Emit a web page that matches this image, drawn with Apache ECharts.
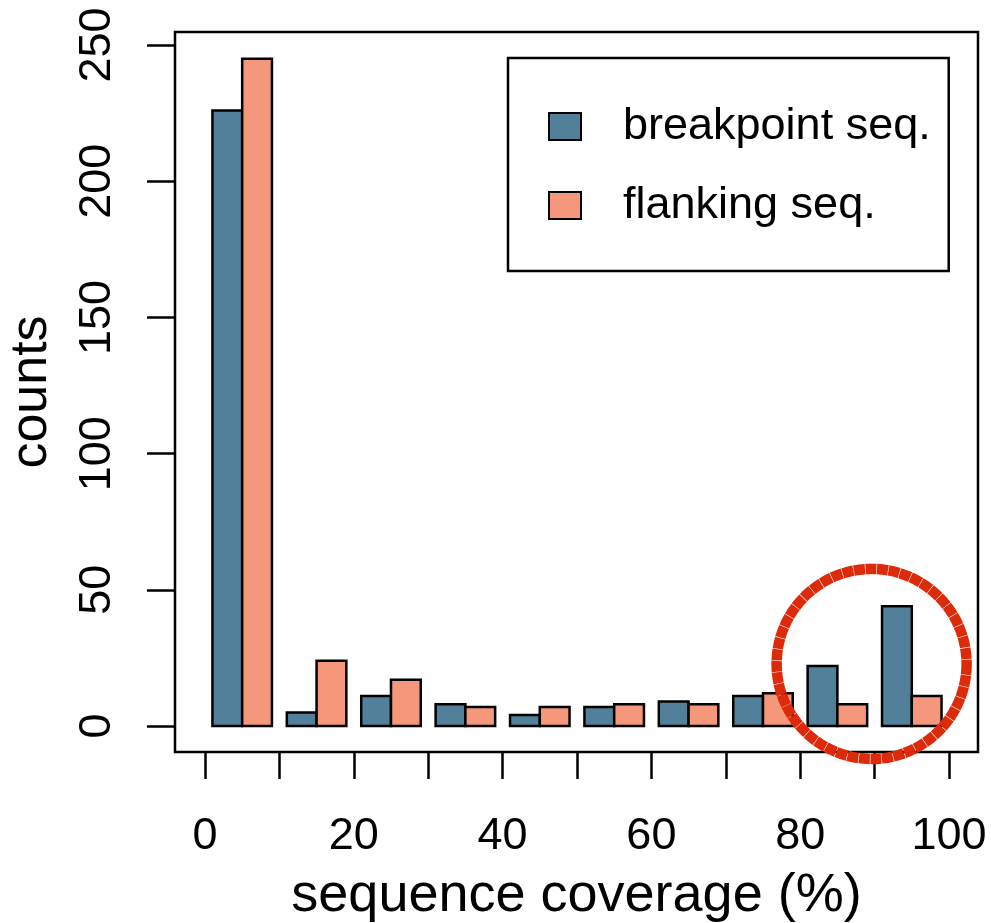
<!DOCTYPE html>
<html><head><meta charset="utf-8">
<script src="https://cdn.jsdelivr.net/npm/echarts@6/dist/echarts.min.js"></script>
<style>html,body{margin:0;padding:0;background:#fff}#c{width:991px;height:923px}</style>
</head><body><div id="c"></div>
<script>
var binStarts = [0, 10, 20, 30, 40, 50, 60, 70, 80, 90];
var breakpointCounts = [226, 5, 11, 8, 4, 7, 9, 11, 22, 44];
var flankingCounts = [245, 24, 17, 7, 7, 8, 8, 12, 8, 11];
var xTicks = [0, 10, 20, 30, 40, 50, 60, 70, 80, 90, 100];
var xLabels = [0, 20, 40, 60, 80, 100];
var yTicks = [0, 50, 100, 150, 200, 250];
var seriesNames = ['breakpoint seq.', 'flanking seq.'];
var highlight = { x: 89.6, y: 22.8 };

var FONT = 'Liberation Sans, Arial, Helvetica, sans-serif';
var BLUE = '#52809a', ORANGE = '#f4977a';

function makeRender(offset, color) {
  return function (params, api) {
    var s = api.value(0), v = api.value(1);
    var p0 = api.coord([s + offset, 0]);
    var p1 = api.coord([s + offset + 4, v]);
    return {
      type: 'rect',
      shape: { x: p0[0], y: p1[1], width: p1[0] - p0[0], height: p0[1] - p1[1] },
      style: { fill: color, stroke: '#000', lineWidth: 2.5 }
    };
  };
}

var chart = echarts.init(document.getElementById('c'), null, { renderer: 'canvas' });
var option = {
  animation: false,
  backgroundColor: '#fff',
  grid: { left: 175, right: 13, top: 32, bottom: 171, containLabel: false, outerBoundsMode: 'none',
          show: true, borderColor: '#000', borderWidth: 2.5, backgroundColor: 'transparent' },
  legend: {
    orient: 'vertical', left: 508, top: 58,
    padding: [46, 18, 43, 40],
    itemGap: 34, itemWidth: 32, itemHeight: 27,
    icon: 'rect',
    borderColor: '#000', borderWidth: 2.5,
    data: seriesNames,
    itemStyle: { borderColor: '#000', borderWidth: 2 },
    textStyle: { fontFamily: FONT, fontSize: 45, color: '#000', lineHeight: 45, padding: [0, 0, 0, 37] }
  },
  xAxis: {
    type: 'value', min: -4.03, max: 103.9,
    name: 'sequence coverage (%)', nameLocation: 'middle', nameGap: 117,
    nameTextStyle: { fontFamily: FONT, fontSize: 54, color: '#000' },
    axisLine: { show: false, onZero: false },
    axisTick: { show: true, inside: false, length: 27, customValues: xTicks, lineStyle: { color: '#000', width: 2.5 } },
    axisLabel: { customValues: xLabels, margin: 62, fontFamily: FONT, fontSize: 45, color: '#000' },
    splitLine: { show: false }
  },
  yAxis: {
    type: 'value', min: -9.54, max: 254.8,
    name: 'counts', nameLocation: 'middle', nameGap: 117, nameRotate: 90,
    nameTextStyle: { fontFamily: FONT, fontSize: 52, color: '#000' },
    axisLine: { show: false, onZero: false },
    axisTick: { show: true, inside: false, length: 28, customValues: yTicks, lineStyle: { color: '#000', width: 2.5 } },
    axisLabel: { customValues: yTicks, rotate: 90, margin: 55, fontFamily: FONT, fontSize: 45, color: '#000' },
    splitLine: { show: false }
  },
  series: [
    { name: seriesNames[0], type: 'custom', itemStyle: { color: BLUE, borderColor: '#000', borderWidth: 2 },
      data: binStarts.map(function (s, i) { return [s, breakpointCounts[i]]; }),
      renderItem: makeRender(1, BLUE), encode: { x: 0, y: 1 } },
    { name: seriesNames[1], type: 'custom', itemStyle: { color: ORANGE, borderColor: '#000', borderWidth: 2 },
      data: binStarts.map(function (s, i) { return [s, flankingCounts[i]]; }),
      renderItem: makeRender(5, ORANGE), encode: { x: 0, y: 1 } }
  ]
};
chart.setOption(option);
var c = chart.convertToPixel({ gridIndex: 0 }, [highlight.x, highlight.y]);
chart.setOption({
  graphic: [{
    type: 'circle', z: 100, silent: true,
    shape: { cx: c[0], cy: c[1], r: 95 },
    style: { fill: 'none', stroke: '#dd2a0b', lineWidth: 10.5, lineDash: [11, 0.6] }
  }]
});
</script></body></html>
